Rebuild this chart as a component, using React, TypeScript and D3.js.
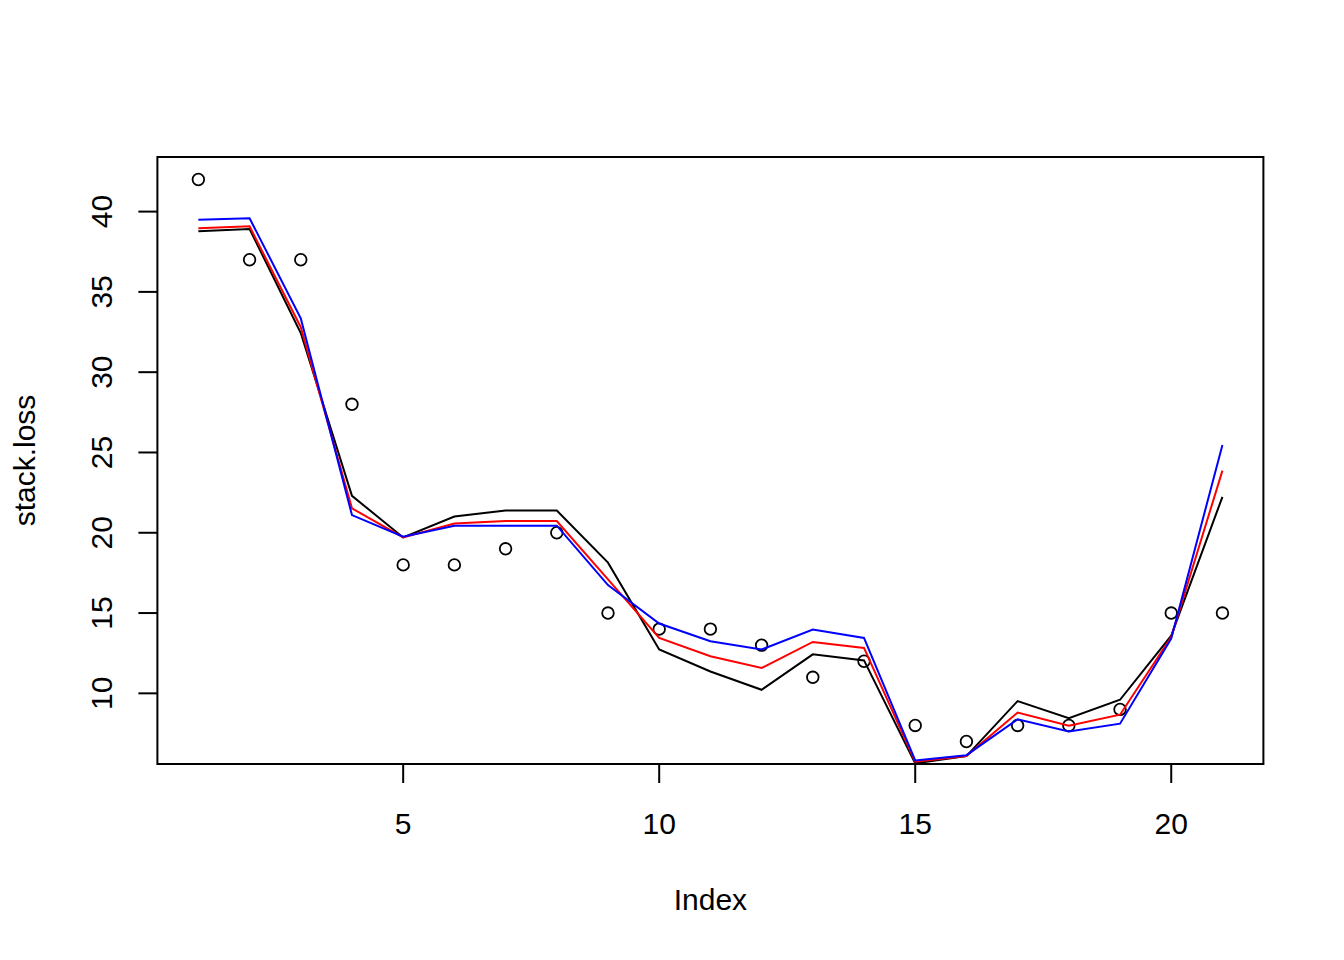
import React from "react";
import * as d3 from "d3";

const stackLoss = [42, 37, 37, 28, 18, 18, 19, 20, 15, 14, 14, 13, 11, 12, 8, 7, 8, 8, 9, 15, 15];
const fitBlack = [38.77, 38.92, 32.44, 22.30, 19.71, 21.01, 21.39, 21.39, 18.14, 12.73, 11.36, 10.22, 12.43, 12.05, 5.64, 6.09, 9.52, 8.46, 9.60, 13.59, 22.24];
const fitRed = [38.97, 39.08, 32.8, 21.52, 19.71, 20.58, 20.73, 20.73, 17.1, 13.45, 12.31, 11.58, 13.2, 12.83, 5.74, 6.1, 8.8, 7.98, 8.67, 13.51, 23.87];
const fitBlue = [39.5, 39.59, 33.35, 21.1, 19.76, 20.44, 20.44, 20.44, 16.74, 14.35, 13.24, 12.73, 13.97, 13.45, 5.82, 6.15, 8.38, 7.63, 8.11, 13.41, 25.47];
const xTicks = [5, 10, 15, 20];
const yTicks = [10, 15, 20, 25, 30, 35, 40];

const W = 1344, H = 960;
const L = 157.4, R = 1263.4, T = 157, B = 764;
const FONT = "Liberation Sans, Arial, sans-serif";

export default function App() {
  const idx = stackLoss.map((_, i) => i + 1);
  const x = d3.scaleLinear().domain([0.2, 21.8]).range([L, R]);
  const y = d3.scaleLinear().domain([5.6, 43.4]).range([B, T]);
  const line = d3.line<number>().x((_, i) => x(idx[i])).y((d) => y(d));
  const series = [
    { vals: fitBlack, color: "#000000" },
    { vals: fitRed, color: "#FF0000" },
    { vals: fitBlue, color: "#0000FF" },
  ];
  return (
    <svg width={W} height={H} style={{ position: "absolute", left: 0, top: 0, background: "#fff" }} fontFamily={FONT}>
      <rect x={0} y={0} width={W} height={H} fill="#fff" />
      <defs>
        <clipPath id="plotclip">
          <rect x={L} y={T} width={R - L} height={B - T} />
        </clipPath>
      </defs>
      {stackLoss.map((v, i) => (
        <circle key={i} cx={x(idx[i])} cy={y(v)} r={5.8} fill="none" stroke="#000" strokeWidth={1.8} />
      ))}
      <g clipPath="url(#plotclip)">
        {series.map((s, k) => (
          <path key={k} d={line(s.vals) || ""} fill="none" stroke={s.color} strokeWidth={2} />
        ))}
      </g>
      <rect x={L} y={T} width={R - L} height={B - T} fill="none" stroke="#000" strokeWidth={2} />
      {xTicks.map((t) => (
        <g key={t}>
          <line x1={x(t)} x2={x(t)} y1={B} y2={B + 19} stroke="#000" strokeWidth={2} />
          <text x={x(t)} y={833.5} fontSize={30} textAnchor="middle" fill="#000">{t}</text>
        </g>
      ))}
      {yTicks.map((t) => (
        <g key={t}>
          <line x1={L - 19} x2={L} y1={y(t)} y2={y(t)} stroke="#000" strokeWidth={2} />
          <text transform={`translate(111.5,${y(t)}) rotate(-90)`} fontSize={30} textAnchor="middle" fill="#000">{t}</text>
        </g>
      ))}
      <text x={(L + R) / 2} y={910} fontSize={30} textAnchor="middle" fill="#000">Index</text>
      <text transform={`translate(35,${(T + B) / 2}) rotate(-90)`} fontSize={30} textAnchor="middle" fill="#000">stack.loss</text>
    </svg>
  );
}
